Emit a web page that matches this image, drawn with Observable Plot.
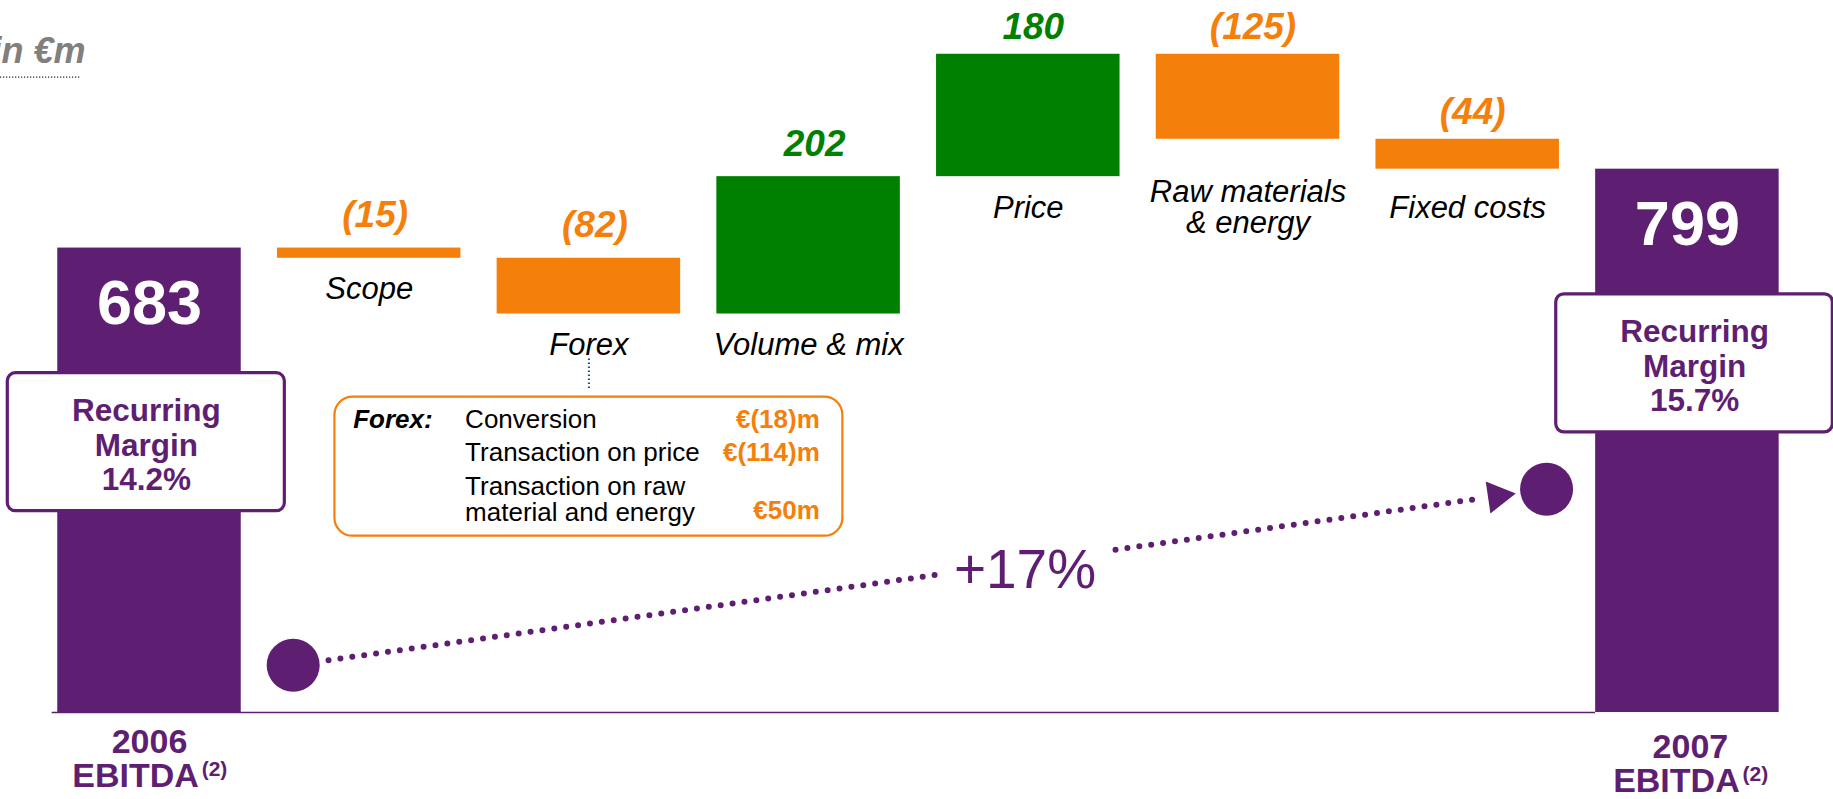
<!DOCTYPE html>
<html><head><meta charset="utf-8">
<script src="https://cdn.jsdelivr.net/npm/d3@7"></script>
<script src="https://cdn.jsdelivr.net/npm/@observablehq/plot@0.6"></script>
<style>html,body{margin:0;padding:0;background:#fff;overflow:hidden} #chart svg{display:block}</style>
</head><body><div id="chart"></div>
<script>
// ---------------- DATA ----------------
const categories = ["2006 EBITDA", "Scope", "Forex", "Volume & mix", "Price", "Raw materials & energy", "Fixed costs", "2007 EBITDA"];
const categoryLabels = ["2006", "Scope", "Forex", "Volume & mix", "Price", "Raw materials\n& energy", "Fixed costs", "2007"];
const values = [683, -15, -82, 202, 180, -125, -44, 799];
const kinds = ["total", "delta", "delta", "delta", "delta", "delta", "delta", "total"];
const totalMetric = "EBITDA";
const totalNote = "(2)";
const recurringMargins = ["14.2%", "15.7%"];
const forexTitle = "Forex:";
const forexItems = ["Conversion", "Transaction on price", "Transaction on raw\nmaterial and energy"];
const forexValues = [-18, -114, 50];
const growthLabel = "+17%";
const unitLabel = "in €m";

// ---------------- STYLE / LAYOUT ----------------
const PURPLE = "#5e1e72", GREEN = "#008000", ORANGE = "#f47f0a", BLUE = "#1f3c96";
const W = 1833, H = 799;
const X0 = 149, STEP = 219.7;          // first category centre / category step (px)
const ZERO = 712, K = 0.68;            // baseline px, px per €m
const HALF = 0.4176;                   // half bar width (category units)
const FONT = "'Liberation Sans', Arial, sans-serif";

// ---------------- WATERFALL ----------------
let run = 0;
const steps = categories.map((category, i) => {
  const v = values[i];
  let y1, y2;
  if (kinds[i] === "total") { y1 = 0; y2 = v; } else { y1 = run; y2 = run + v; }
  run = y2;
  return {i, category, label: categoryLabels[i], value: v, kind: kinds[i], y1, y2,
          top: Math.max(y1, y2), bottom: Math.min(y1, y2),
          color: kinds[i] === "total" ? PURPLE : v >= 0 ? GREEN : ORANGE};
});
const totals = steps.filter(d => d.kind === "total");
const deltas = steps.filter(d => d.kind === "delta");
const labelCeiling = steps[3].y2; // category labels never sit above the end of "Volume & mix"
const fmtDelta = v => v < 0 ? `(${-v})` : `${v}`;
const fmtEuro = v => v < 0 ? `€(${-v})m` : `€${v}m`;

// per-total annotation layout
const totalLayout = [
  {bx1: -0.645, bx2: 0.616, shiftX: 0, shiftY: 0},
  {bx1: -0.597, bx2: 0.662, shiftX: 0.0137, shiftY: 5}
];

const marks = [];
// baseline
marks.push(Plot.ruleY([0], {x1: -0.443, x2: 6.582, stroke: PURPLE, strokeWidth: 1.5}));
// bars
marks.push(Plot.rect(steps, {x1: d => d.i - HALF, x2: d => d.i + HALF, y1: "y1", y2: "y2", fill: "color"}));
// totals: value, recurring-margin box, bottom labels
totals.forEach((t, k) => {
  const L = totalLayout[k];
  marks.push(Plot.text([t], {x: "i", y: "top", text: d => String(d.value), dy: 56, fill: "white",
    fontSize: 63, fontWeight: "bold"}));
  marks.push(Plot.rect([t], {x1: d => d.i + L.bx1, x2: d => d.i + L.bx2, y1: d => d.value - 184, y2: d => d.value - 387,
    fill: "white", stroke: PURPLE, strokeWidth: 3.2, rx: 8}));
  marks.push(Plot.text([t], {x: d => d.i + (L.bx1 + L.bx2) / 2, y: d => d.value - 289,
    text: () => `Recurring\nMargin\n${recurringMargins[k]}`, fontSize: 31.5, fontWeight: "bold", fill: PURPLE, lineHeight: 1.1}));
  marks.push(Plot.text([t], {x: d => d.i + L.shiftX, y: () => 0, text: "label", dy: 29.8 + L.shiftY,
    fontSize: 34, fontWeight: "bold", fill: PURPLE}));
  marks.push(Plot.text([t], {x: d => d.i + L.shiftX, y: () => 0, text: () => totalMetric, dx: -14, dy: 63.5 + L.shiftY,
    fontSize: 34, fontWeight: "bold", fill: PURPLE}));
  marks.push(Plot.text([t], {x: d => d.i + L.shiftX, y: () => 0, text: () => totalNote, dx: 65, dy: 57 + L.shiftY,
    fontSize: 21, fontWeight: "bold", fill: PURPLE}));
});
// delta value labels
marks.push(Plot.text(deltas.filter(d => d.i < 4), {x: "i", y: "top", text: d => fmtDelta(d.value), dx: 6, dy: -33,
  fill: "color", fontSize: 37, fontWeight: "bold", fontStyle: "italic"}));
marks.push(Plot.text(deltas.filter(d => d.i >= 4), {x: "i", y: "top", text: d => fmtDelta(d.value), dx: 5, dy: -27,
  fill: "color", fontSize: 37, fontWeight: "bold", fontStyle: "italic"}));
// category labels
marks.push(Plot.text(deltas, {x: "i", y: d => Math.min(d.bottom, labelCeiling), text: "label", dy: 31,
  fill: "black", fontSize: 31, fontStyle: "italic", lineHeight: 1.0}));

// Forex detail box
const FX = steps.find(d => d.category === "Forex").i;
const forexRowY = [431.3, 382.8, 313.2];
const forexValY = [431.3, 382.8, 296.6];
marks.push(Plot.ruleX([FX], {y1: 476.5, y2: 522.8, stroke: BLUE, strokeWidth: 2, strokeDasharray: "1.5 2.5"}));
marks.push(Plot.rect([FX], {x1: d => d - 1.156, x2: d => d + 1.156, y1: () => 259.3, y2: () => 463.7,
  fill: "white", stroke: ORANGE, strokeWidth: 2.2, rx: 18}));
marks.push(Plot.text([forexTitle], {x: () => FX - 1.073, y: () => forexRowY[0], text: d => d, textAnchor: "start",
  fontSize: 26, fontWeight: "bold", fontStyle: "italic", fill: "black"}));
marks.push(Plot.text(forexItems, {x: () => FX - 0.5635, y: (d, i) => forexRowY[i], text: d => d, textAnchor: "start",
  fontSize: 26, fill: "black", lineHeight: 1.0}));
marks.push(Plot.text(forexValues, {x: () => FX + 1.051, y: (d, i) => forexValY[i], text: d => fmtEuro(d), textAnchor: "end",
  fontSize: 26, fontWeight: "bold", fill: ORANGE}));

// growth arrow 2006 -> 2007
const gFrom = {x: 0.654, y: 69.6}, gTo = {x: 6.359, y: 328.4};
const lerp = t => ({x: gFrom.x + t * (gTo.x - gFrom.x), y: gFrom.y + t * (gTo.y - gFrom.y)});
const segs = [[0.0282, 0.5125], [0.6561, 0.9489]].flatMap(([a, b], s) => [{...lerp(a), s}, {...lerp(b), s}]);
marks.push(Plot.line(segs, {x: "x", y: "y", z: "s", stroke: PURPLE, strokeWidth: 6, strokeDasharray: "0 12", strokeLinecap: "round"}));
marks.push(Plot.dot([lerp(0.9607)], {x: "x", y: "y", symbol: "triangle", r: 12, fill: PURPLE, rotate: 81.6}));
marks.push(Plot.dot([gFrom, gTo], {x: "x", y: "y", r: 26.5, fill: PURPLE}));
marks.push(Plot.text([growthLabel], {x: () => 3.985, y: () => 208.5, text: d => d, fontSize: 55, fill: PURPLE}));

// unit label
marks.push(Plot.ruleY([934.3], {x1: -0.678, x2: -0.317, stroke: "#222", strokeWidth: 1.3, strokeDasharray: "1.2 1.8"}));
marks.push(Plot.text([unitLabel], {x: () => -0.2914, y: () => 972.4, text: d => d, textAnchor: "end",
  fontSize: 36, fontWeight: "bold", fontStyle: "italic", fill: "#808080"}));

const chart = Plot.plot({
  width: W, height: H,
  marginLeft: 0, marginRight: 0, marginTop: 0, marginBottom: H - ZERO,
  x: {type: "linear", domain: [-X0 / STEP, (W - X0) / STEP], axis: null},
  y: {type: "linear", domain: [0, ZERO / K], axis: null},
  color: {type: "identity"},
  style: {fontFamily: FONT, background: "white", overflow: "visible"},
  marks
});
document.getElementById("chart").appendChild(chart);
</script>
</body></html>
